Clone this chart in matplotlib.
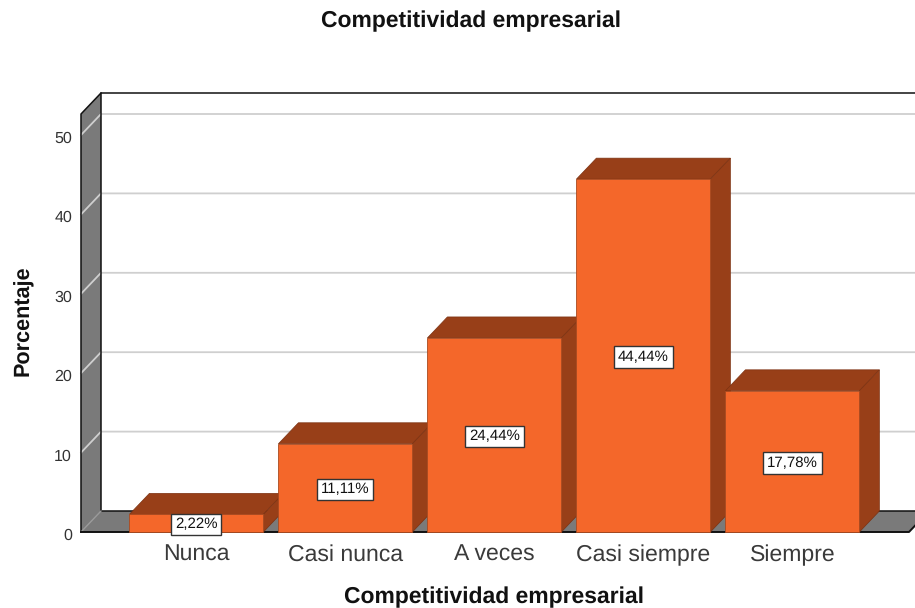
import matplotlib
matplotlib.use("Agg")
import matplotlib.pyplot as plt
from matplotlib.patches import Polygon
from matplotlib.transforms import ScaledTranslation

plt.rcParams['font.family'] = ['Liberation Sans', 'DejaVu Sans']
plt.rcParams['text.hinting'] = 'no_hinting'

categories = ["Nunca", "Casi nunca", "A veces", "Casi siempre", "Siempre"]
percent = [2.22, 11.11, 24.44, 44.44, 17.78]
labels = ["2,22%", "11,11%", "24,44%", "44,44%", "17,78%"]
y_ticks = [0, 10, 20, 30, 40, 50]

FACE = "#f4672a"
DARK = "#983f18"
GREY = "#7a7a7a"
GRID = "#cfcfcf"

fig = plt.figure(figsize=(9.15, 6.08), dpi=100)
# axes box is the front plane of the 3d frame, in pixels
W, H = 915.0, 608.0
left, right, base, top = 81.0, 909.0, 532.0, 114.0
ax = fig.add_axes([left / W, 1 - base / H, (right - left) / W, (base - top) / H])

px_x = 149.0  # pixels per category
px_y = 7.94   # pixels per percent
x0 = -(196.4 - left) / px_x
x1 = x0 + (right - left) / px_x
y1 = (base - top) / px_y
ax.set_xlim(x0, x1)
ax.set_ylim(0, y1)

dx = 20.0 / px_x
dy = 21.0 / px_y
bw = 134.0 / px_x


def poly(pts, fc, ec="none", lw=0.0, z=1):
    ax.add_patch(Polygon(pts, closed=True, fc=fc, ec=ec, lw=lw, zorder=z, clip_on=False))


# back wall, side wall, floor
poly([(x0, 0), (x0 + dx, dy), (x0 + dx, y1 + dy), (x0, y1)], GREY, z=1)
poly([(x0, 0), (x1, 0), (x1 + dx, dy), (x0 + dx, dy)], GREY, z=1)

# gridlines run along the side wall and the back wall
for t in y_ticks[1:]:
    ax.plot([x0, x0 + dx, x1 + dx], [t, t + dy, t + dy], color=GRID, lw=1.3, zorder=2,
            clip_on=False, solid_joinstyle="miter")

# frame
ax.plot([x0, x0, x0 + dx, x1 + dx], [0, y1, y1 + dy, y1 + dy], color="#111111", lw=1.1, zorder=3, clip_on=False)
ax.plot([x0 + dx, x0 + dx, x1 + dx], [y1 + dy, dy, dy], color="#111111", lw=1.1, zorder=3, clip_on=False)
ax.plot([x0, x0 + dx], [0, dy], color="#9a9a9a", lw=1.0, zorder=3, clip_on=False)
ax.plot([x0, x1, x1 + dx], [0, 0, dy], color="#111111", lw=1.4, zorder=3, clip_on=False)

# bars
for i, v in enumerate(percent):
    a, b = i - bw / 2, i + bw / 2
    z = 5 + i
    poly([(a, v), (b, v), (b + dx, v + dy), (a + dx, v + dy)], DARK, ec="#7c3212", lw=0.5, z=z)
    poly([(b, 0), (b + dx, dy), (b + dx, v + dy), (b, v)], DARK, ec="#7c3212", lw=0.5, z=z)
    poly([(a, 0), (b, 0), (b, v), (a, v)], FACE, ec="#a84a20", lw=0.6, z=z)
    ax.annotate(labels[i], (i, v / 2), xytext=(0, -1), textcoords="offset points",
                ha="center", va="center", fontsize=10.8, color="#111111", zorder=20,
                bbox=dict(boxstyle="square,pad=0.25", fc="white", ec="#333333", lw=1.0))

ax.set_xticks(range(len(categories)))
ax.set_xticklabels(categories, fontsize=16.6, color="#3a3a3a")
ax.set_yticks(y_ticks)
ax.set_yticklabels(y_ticks, fontsize=11.5, color="#333333")
ax.tick_params(axis="both", length=0)
ax.tick_params(axis="x", pad=9)
ax.tick_params(axis="y", pad=6.5)
# value labels sit a little below their tick level in the reference
shift = ScaledTranslation(0, -1.5 / 72, fig.dpi_scale_trans)
for lab in ax.get_yticklabels():
    lab.set_transform(lab.get_transform() + shift)
for s in ax.spines.values():
    s.set_visible(False)
ax.patch.set_alpha(0)

fig.text(471 / W, 1 - 21.5 / H, "Competitividad empresarial", ha="center", va="center",
         fontsize=16.5, fontweight="bold", color="#111111")
fig.text(494 / W, 1 - 597.5 / H, "Competitividad empresarial", ha="center", va="center",
         fontsize=16.5, fontweight="bold", color="#111111")
fig.text(23 / W, 1 - 321 / H, "Porcentaje", ha="center", va="center", rotation=90,
         fontsize=15.6, fontweight="bold", color="#111111")

fig.savefig("out.png", dpi=100)
